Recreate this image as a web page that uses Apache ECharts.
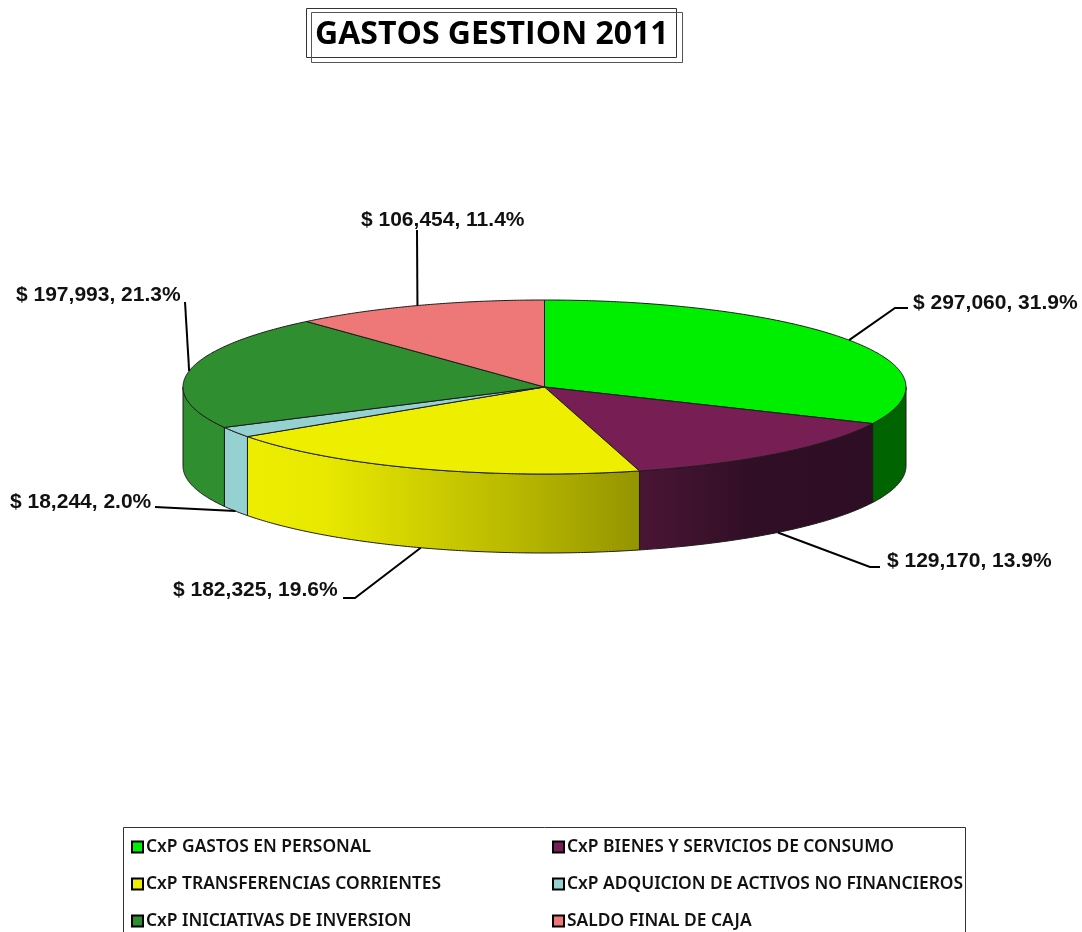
<!DOCTYPE html>
<html>
<head>
<meta charset="utf-8">
<style>html,body{margin:0;padding:0;background:#fff}#c{width:1082px;height:932px}</style>
<script src="https://cdn.jsdelivr.net/npm/echarts@6/dist/echarts.min.js"></script>
</head>
<body>
<div id="c"></div>
<script>
const categories = [
  'CxP GASTOS EN PERSONAL',
  'CxP BIENES Y SERVICIOS DE CONSUMO',
  'CxP TRANSFERENCIAS CORRIENTES',
  'CxP ADQUICION DE ACTIVOS NO FINANCIEROS',
  'CxP INICIATIVAS DE INVERSION',
  'SALDO FINAL DE CAJA'
];
const values = [297060, 129170, 182325, 18244, 197993, 106454];
const titleText = 'GASTOS GESTION 2011';

const topColors = ['#00EE00', '#771F55', '#EEEE00', '#96D1D1', '#2F8E2F', '#EE7777'];
const wallStops = [
  [[0, '#006400'], [1, '#006400']],
  [[0, '#4A1535'], [0.5, '#300E25'], [1, '#2E0E25']],
  [[0, '#EEEE00'], [0.2, '#E8E800'], [0.45, '#CFCF00'], [0.7, '#B6B600'], [1, '#949400']],
  [[0, '#96D1D1'], [1, '#96D1D1']],
  [[0, '#2F8E2F'], [1, '#2F8E2F']],
  [[0, '#EE7777'], [1, '#EE7777']]
];

// layout of the flattened disc
const cx = 544.5, cy = 387, rx = 361.5, ry = 87, depth = 79;
// label position [x, y], and the leader's bend points; the leader's start comes from the slice's mid angle
const labelPos = [[913, 303], [887, 561], [173, 590], [10, 502], [16, 295], [361, 220]];
const leaderBends = [
  [[895, 308], [908, 308]],
  [[870, 567], [880, 567]],
  [[355, 598], [343, 598]],
  [[155, 507]],
  [[185, 302]],
  [[417, 230]]
];
const onWall = [false, true, true, true, false, false];

const total = values.reduce((a, b) => a + b, 0);
const starts = values.map((_, i) => values.slice(0, i).reduce((a, b) => a + b, 0) / total * 360);
const rad = d => d * Math.PI / 180;
const ptAt = (deg, dy) => [cx + rx * Math.sin(rad(deg)), cy - ry * Math.cos(rad(deg)) + (dy || 0)];
function arc(a, b, dy) {
  const n = Math.max(2, Math.ceil((b - a) * 2)), out = [];
  for (let k = 0; k <= n; k++) out.push(ptAt(a + (b - a) * k / n, dy));
  return out;
}
const fmt = v => '$ ' + v.toLocaleString('en-US') + ', ' + (v / total * 100).toFixed(1) + '%';
const strokeCol = '#1c1c1c';

function renderSlice(i) {
  return function (params, api) {
    const v = api.value(0);
    const a = starts[i], b = a + v / total * 360;
    const children = [];
    const wa = Math.max(a, 90), wb = Math.min(b, 270);
    if (wb > wa) {
      const upper = arc(wa, wb, 0), lower = arc(wa, wb, depth).reverse();
      children.push({
        type: 'polygon', z2: 1,
        shape: { points: upper.concat(lower) },
        style: {
          fill: new echarts.graphic.LinearGradient(0, 0, 1, 0,
            wallStops[i].map(s => ({ offset: s[0], color: s[1] }))),
          stroke: strokeCol, lineWidth: 1
        }
      });
    }
    children.push({
      type: 'polygon', z2: 2,
      shape: { points: [[cx, cy]].concat(arc(a, b, 0)) },
      style: { fill: topColors[i], stroke: strokeCol, lineWidth: 1 }
    });
    const mid = (a + b) / 2;
    const start = ptAt(mid, onWall[i] ? depth : 0);
    children.push({
      type: 'polyline', z2: 3,
      shape: { points: [start].concat(leaderBends[i]) },
      style: { fill: 'none', stroke: '#000', lineWidth: 2 }
    });
    children.push({
      type: 'text', z2: 4,
      style: {
        x: labelPos[i][0], y: labelPos[i][1],
        text: fmt(v),
        fill: '#111',
        font: 'bold 21px "Liberation Sans", Arial, sans-serif',
        textAlign: 'left', textVerticalAlign: 'middle'
      }
    });
    return { type: 'group', children };
  };
}

const legendBase = {
  orient: 'vertical', icon: 'rect', itemWidth: 11, itemHeight: 11, itemGap: 17,
  selectedMode: false, padding: 0,
  itemStyle: { borderColor: '#000', borderWidth: 2 },
  textStyle: { color: '#111', fontFamily: '"Noto Sans", sans-serif', fontWeight: 600, fontSize: 17.4, padding: [0, 0, 0, -2], lineHeight: 20 }
};

const chart = echarts.init(document.getElementById('c'), null, { renderer: 'canvas' });
chart.setOption({
  animation: false,
  backgroundColor: '#fff',
  title: {
    text: titleText, left: 315, top: 19, padding: 0,
    textStyle: { fontFamily: '"Open Sans", sans-serif', fontWeight: 'bold', fontSize: 32, color: '#000' }
  },
  legend: [
    Object.assign({}, legendBase, { left: 131, top: 837, data: [categories[0], categories[2], categories[4]] }),
    Object.assign({}, legendBase, { left: 552, top: 837, data: [categories[1], categories[3], categories[5]] })
  ],
  graphic: [
    { type: 'rect', shape: { x: 306.5, y: 8.5, width: 370, height: 49 }, style: { fill: 'none', stroke: '#333', lineWidth: 1 } },
    { type: 'rect', shape: { x: 311.5, y: 12.5, width: 371, height: 50 }, style: { fill: 'none', stroke: '#555', lineWidth: 1 } },
    { type: 'polyline', shape: { points: [[123.5, 932], [123.5, 827.5], [965.5, 827.5], [965.5, 932]] }, style: { fill: 'none', stroke: '#333', lineWidth: 1 } }
  ],
  series: categories.map((name, i) => ({
    type: 'custom', name, coordinateSystem: 'none',
    silent: true, clip: false,
    itemStyle: { color: topColors[i] },
    data: [values[i]],
    renderItem: renderSlice(i)
  }))
});
</script>
</body>
</html>
